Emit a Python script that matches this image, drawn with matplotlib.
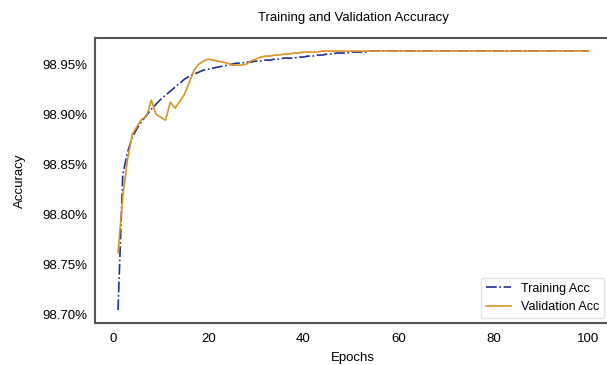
#! /usr/bin/env python3

import numpy as np
import matplotlib.pyplot as plt
from matplotlib.ticker import FuncFormatter

plt.rcParams['font.family'] = ['Liberation Sans', 'DejaVu Sans']

epochs = list(range(1, 101))

train_acc = [
    98.705, 98.840, 98.862, 98.877, 98.886, 98.893, 98.899, 98.905, 98.910, 98.915,
    98.919, 98.923, 98.927, 98.931, 98.935, 98.938, 98.940, 98.942, 98.944, 98.945,
    98.946, 98.947, 98.948, 98.949, 98.950, 98.951, 98.951, 98.952, 98.952, 98.953,
    98.953, 98.954, 98.954, 98.955, 98.955, 98.956, 98.956, 98.956, 98.957, 98.957,
    98.958, 98.958, 98.959, 98.959, 98.960, 98.960, 98.961, 98.961, 98.961, 98.962,
    98.962, 98.962, 98.962, 98.963, 98.963, 98.963, 98.963, 98.963, 98.963, 98.963,
] + [98.963] * 40

val_acc = [
    98.762, 98.818, 98.855, 98.880, 98.888, 98.895, 98.898, 98.914, 98.900, 98.897,
    98.894, 98.912, 98.906, 98.913, 98.920, 98.932, 98.944, 98.950, 98.953, 98.955,
    98.954, 98.953, 98.952, 98.951, 98.949, 98.949, 98.949, 98.950, 98.953, 98.955,
    98.957, 98.958, 98.958, 98.959, 98.959, 98.960, 98.960, 98.961, 98.961, 98.962,
    98.962, 98.962, 98.962, 98.963, 98.963, 98.963, 98.963, 98.963, 98.963, 98.963,
] + [98.963] * 50

fig = plt.figure(figsize=(6.07, 3.65), dpi=100)
ax = fig.add_axes([94.5 / 607, (365 - 323) / 365, (612 - 94.5) / 607, (323 - 38) / 365])

ax.plot(epochs, train_acc, color='#1f2f9c', linestyle='-.', linewidth=1.2, label='Training Acc')
ax.plot(epochs, val_acc, color='#dc9223', linestyle='-', linewidth=1.2, label='Validation Acc')

ax.set_xlim(-3.95, 104.95)
ax.set_ylim(98.692, 98.976)
ax.set_xticks([0, 20, 40, 60, 80, 100])
ax.set_yticks([98.70, 98.75, 98.80, 98.85, 98.90, 98.95])
ax.yaxis.set_major_formatter(FuncFormatter(lambda v, p: '%.2f%%' % v))
ax.tick_params(axis='x', length=0, labelsize=9.5, pad=7)
ax.tick_params(axis='y', length=0, labelsize=9.5, pad=5)

for s in ax.spines.values():
    s.set_color('#555555')
    s.set_linewidth(1.5)

ax.set_title('Training and Validation Accuracy', fontsize=9.5, pad=12)
ax.set_xlabel('Epochs', fontsize=9.5, labelpad=5)
ax.set_ylabel('Accuracy', fontsize=9.5, labelpad=12)

ax.legend(loc='lower right', bbox_to_anchor=(604 / 607, (365 - 318) / 365),
          bbox_transform=fig.transFigure, fontsize=9, frameon=True,
          edgecolor='#dddddd', fancybox=True, borderaxespad=0.0)

fig.savefig('out.png', dpi=100)
